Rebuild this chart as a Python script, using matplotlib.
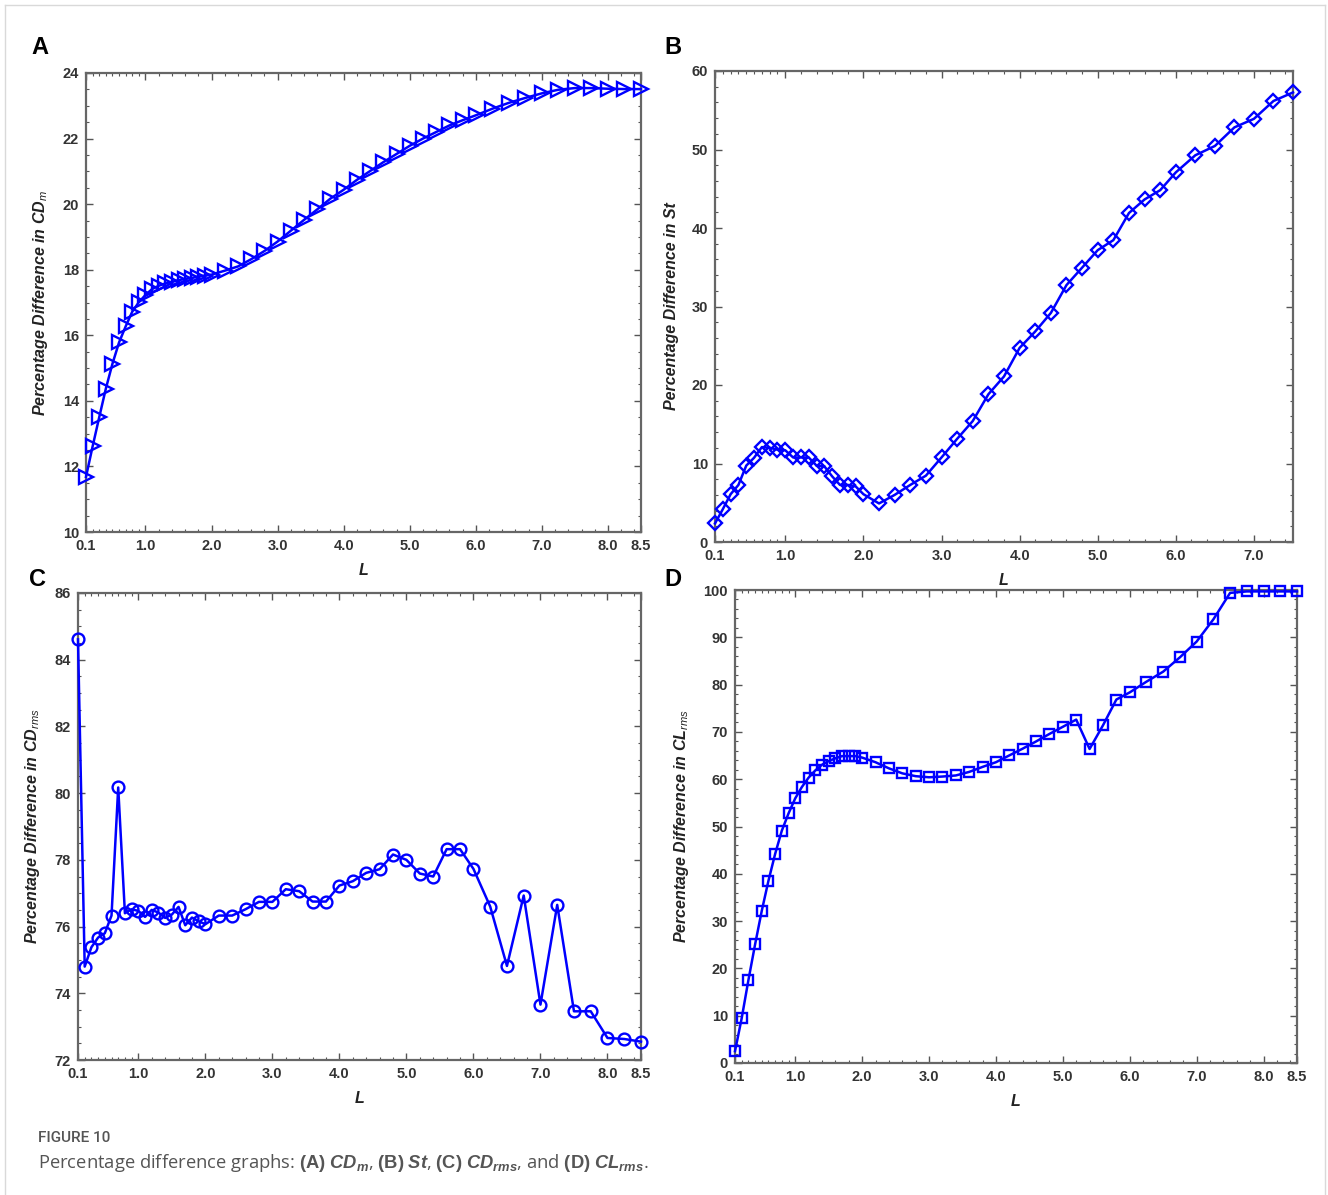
import numpy as np
import matplotlib
matplotlib.use("Agg")
import matplotlib.pyplot as plt
from matplotlib.lines import Line2D

plt.rcParams['font.family'] = ['Liberation Sans', 'DejaVu Sans']
plt.rcParams['mathtext.fontset'] = 'custom'
plt.rcParams['mathtext.rm'] = 'Liberation Sans'
plt.rcParams['mathtext.it'] = 'Liberation Sans:italic'
plt.rcParams['mathtext.bf'] = 'Liberation Sans:bold'
plt.rcParams['mathtext.bfit'] = 'Liberation Sans:bold:italic'

# L values (gap ratio)
L = [0.1, 0.2, 0.3, 0.4, 0.5, 0.6, 0.7, 0.8, 0.9, 1.0,
     1.1, 1.2, 1.3, 1.4, 1.5, 1.6, 1.7, 1.8, 1.9, 2.0,
     2.2, 2.4, 2.6, 2.8, 3.0, 3.2, 3.4, 3.6, 3.8, 4.0,
     4.2, 4.4, 4.6, 4.8, 5.0, 5.2, 5.4, 5.6, 5.8, 6.0,
     6.25, 6.5, 6.75, 7.0, 7.25, 7.5, 7.75, 8.0, 8.25, 8.5]
L_st = L[:46]

# (A) CDm
cdm = [11.68, 12.61, 13.50, 14.37, 15.13, 15.78, 16.27, 16.72, 17.01, 17.23,
       17.41, 17.51, 17.58, 17.63, 17.68, 17.72, 17.75, 17.79, 17.82, 17.85,
       17.97, 18.10, 18.32, 18.57, 18.86, 19.19, 19.52, 19.84, 20.17, 20.44,
       20.74, 21.01, 21.28, 21.53, 21.78, 22.00, 22.20, 22.40, 22.56, 22.71,
       22.91, 23.09, 23.24, 23.38, 23.49, 23.54, 23.54, 23.52, 23.51, 23.51]

# (B) St
st = [2.36, 4.18, 6.09, 7.27, 9.73, 10.73, 12.09, 12.00, 11.77, 11.68,
      10.77, 10.77, 10.77, 9.73, 9.64, 8.36, 7.27, 7.27, 7.09, 6.09,
      4.91, 6.00, 7.27, 8.45, 10.77, 13.14, 15.41, 18.82, 21.09, 24.73,
      26.82, 29.18, 32.73, 34.95, 37.18, 38.45, 41.91, 43.64, 44.82, 47.09,
      49.27, 50.45, 52.82, 53.91, 56.18, 57.27]

# (C) CDrms
cdrms = [84.61, 74.80, 75.38, 75.67, 75.80, 76.33, 80.17, 76.40, 76.52, 76.47,
         76.29, 76.50, 76.42, 76.26, 76.36, 76.59, 76.04, 76.27, 76.16, 76.07,
         76.33, 76.33, 76.52, 76.74, 76.74, 77.12, 77.06, 76.75, 76.75, 77.23,
         77.36, 77.61, 77.72, 78.16, 78.00, 77.59, 77.50, 78.32, 78.32, 77.73,
         76.60, 74.82, 76.93, 73.66, 76.65, 73.46, 73.46, 72.66, 72.63, 72.55]

# (D) CLrms
clrms = [2.5, 9.46, 17.49, 25.06, 32.17, 38.53, 44.21, 49.13, 52.76, 55.94,
         58.36, 60.33, 61.85, 63.06, 63.82, 64.42, 64.88, 64.88, 64.88, 64.57,
         63.59, 62.30, 61.24, 60.64, 60.41, 60.56, 60.79, 61.54, 62.60, 63.59,
         65.03, 66.46, 67.98, 69.57, 71.08, 72.60, 66.39, 71.39, 76.84, 78.35,
         80.62, 82.74, 85.77, 89.10, 93.79, 99.39, 99.70, 99.70, 99.70, 99.70]

xt_full = [0.1, 1, 2, 3, 4, 5, 6, 7, 8, 8.5]
xt_st = [0.1, 1, 2, 3, 4, 5, 6, 7]

W, H = 1328, 1195
fig = plt.figure(figsize=(W / 100, H / 100), dpi=100)


def box(l, t, r, b):
    return [l / W, 1 - b / H, (r - l) / W, (b - t) / H]


def style(ax, xmax, xticks, ylim, ystep, yminor, ylab):
    ax.set_xlim(0.1, xmax)
    ax.set_ylim(*ylim)
    ax.set_xticks(xticks)
    ax.set_xticklabels(['%.1f' % v for v in xticks])
    minor_x = [0.2, 0.3, 0.4, 0.5, 0.6, 0.7, 0.8, 0.9] + \
        [v for v in np.arange(1.2, xmax + 0.01, 0.2)]
    ax.set_xticks(minor_x, minor=True)
    ax.set_yticks(np.arange(ylim[0], ylim[1] + 0.01, ystep))
    ax.set_yticks(np.arange(ylim[0], ylim[1] + 0.01, yminor), minor=True)
    ax.tick_params(which='both', direction='in', top=True, right=True,
                   color='#555555')
    ax.tick_params(which='major', length=5, width=1.0, labelsize=10.5,
                   labelcolor='#333333', pad=5)
    ax.tick_params(which='minor', length=2.5, width=0.8)
    for lbl in ax.get_xticklabels() + ax.get_yticklabels():
        lbl.set_fontweight('bold')
    for s in ax.spines.values():
        s.set_color('#666666')
        s.set_linewidth(1.6)
    ax.set_xlabel('L', fontsize=11.5, fontweight='bold', fontstyle='italic',
                  color='#222222', labelpad=7)
    ax.set_ylabel(ylab, fontsize=11.5, fontweight='bold', fontstyle='italic',
                  color='#222222', labelpad=9)


blue = '#0000ff'
kw = dict(color=blue, lw=1.8, markerfacecolor='none', markeredgecolor=blue,
          markeredgewidth=1.7, clip_on=False, zorder=5)

axA = fig.add_axes(box(86, 73, 641, 532))
axA.plot(L, cdm, marker='>', markersize=10.5, **kw)
style(axA, 8.5, xt_full, (10, 24), 2, 0.5,
      r'Percentage Difference in CD$_{\mathit{m}}$')

axB = fig.add_axes(box(715, 71, 1293, 542))
axB.plot(L_st, st, marker='D', markersize=7.5, **kw)
style(axB, 7.5, xt_st, (0, 60), 10, 2, 'Percentage Difference in St')

axC = fig.add_axes(box(78, 593, 641, 1060))
axC.plot(L, cdrms, marker='o', markersize=8.5, **kw)
style(axC, 8.5, xt_full, (72, 86), 2, 0.5,
      r'Percentage Difference in CD$_{\mathit{rms}}$')

axD = fig.add_axes(box(735, 590, 1297, 1063))
axD.plot(L, clrms, marker='s', markersize=6.5, **kw)
style(axD, 8.5, xt_full, (0, 100), 10, 2,
      r'Percentage Difference in CL$_{\mathit{rms}}$')

# panel letters
for txt, x, y in [('A', 40, 48), ('B', 673, 48), ('C', 38, 580), ('D', 673, 580)]:
    fig.text(x / W, 1 - y / H, txt, fontsize=17, fontweight='bold',
             ha='center', va='center', color='black')

# caption
fig.text(38 / W, 1 - 1138 / H, 'FIGURE 10', fontsize=11, color='#555555',
         family=['Roboto', 'DejaVu Sans'], fontweight='medium',
         va='center', ha='left')
fig.text(38 / W, 1 - 1163 / H,
         r'Percentage difference graphs: $\mathbf{(A)}$ $\mathbfit{CD_m}$, '
         r'$\mathbf{(B)}$ $\mathbfit{St}$, $\mathbf{(C)}$ $\mathbfit{CD_{rms}}$, '
         r'and $\mathbf{(D)}$ $\mathbfit{CL_{rms}}$.',
         fontsize=13.2, color='#555555', family=['Open Sans', 'DejaVu Sans'],
         va='center', ha='left')

# light frame around the figure
frame = dict(color='#d9d9d9', lw=1.0, transform=fig.transFigure)
fig.add_artist(Line2D([5 / W, 5 / W], [0, 1 - 5 / H], **frame))
fig.add_artist(Line2D([5 / W, 1325 / W], [1 - 5 / H, 1 - 5 / H], **frame))
fig.add_artist(Line2D([1325 / W, 1325 / W], [0, 1 - 5 / H], **frame))

fig.savefig('out.png', dpi=100)
